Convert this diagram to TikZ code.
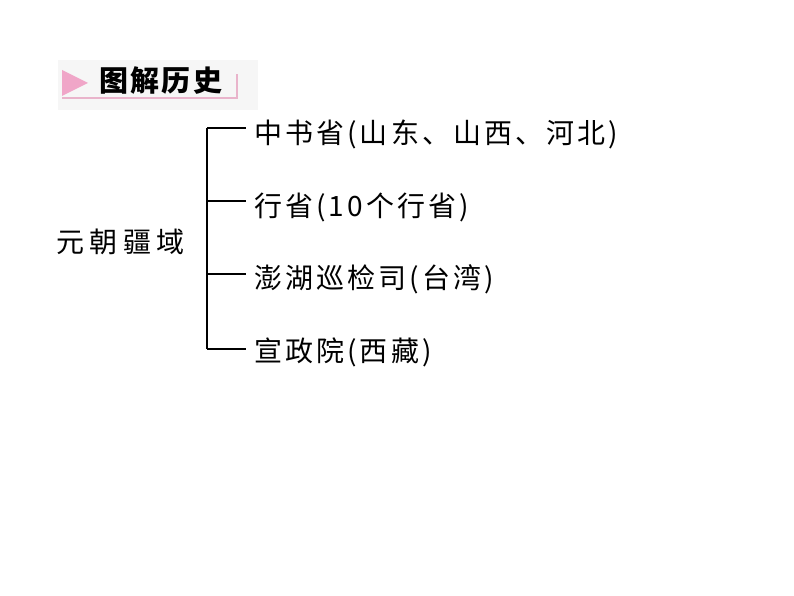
\documentclass[tikz,border=0pt]{standalone}
\usepackage{fontspec}
\newfontfamily\cjk[LetterSpace=11]{Noto Sans CJK SC}
\newfontfamily\cjkroot[LetterSpace=20]{Noto Sans CJK SC}
\newfontfamily\cjkhead[LetterSpace=8]{Noto Sans CJK SC}
\definecolor{headpink}{HTML}{F0A6C8}
\definecolor{linepink}{HTML}{E9B4CB}
\definecolor{headgray}{HTML}{F6F6F6}
\tikzset{
  item/.style={anchor=west,inner sep=0pt,font=\cjk\fontsize{28}{28}\selectfont},
  brace/.style={line width=1.6pt}
}
\begin{document}
\begin{tikzpicture}[x=1pt,y=-1pt]
\useasboundingbox (0,0) rectangle (794,596);
% title bar
\fill[headgray] (58,60) rectangle (258,110);
\fill[headpink] (62,70) -- (88,83) -- (62,96) -- cycle;
\draw[linepink,line width=1.6pt] (62,98) -- (237,98) -- (237,74);
\node (head) [anchor=west,inner sep=0pt,font=\cjkhead\fontsize{29}{29}\selectfont\bfseries] at (99,81) {图解历史};

\node (root) [anchor=west,inner sep=0pt,font=\cjkroot\fontsize{28}{28}\selectfont] at (56,242) {元朝疆域};
\node (i1) [item] at (254,134) {中书省(山东、山西、河北)};
\node (i2) [item] at (254,207) {行省(10个行省)};
\node (i3) [item] at (254,279) {澎湖巡检司(台湾)};
\node (i4) [item] at (254,352) {宣政院(西藏)};

\coordinate (t1) at (207,128);
\coordinate (t2) at (207,201);
\coordinate (t3) at (207,274);
\coordinate (t4) at (207,349);
\draw[brace] (t1) -- (t4);
\draw[brace] (t1) -- (246,128);
\draw[brace] (t2) -- (246,201);
\draw[brace] (t3) -- (246,274);
\draw[brace] (t4) -- (246,349);
\end{tikzpicture}
\end{document}
